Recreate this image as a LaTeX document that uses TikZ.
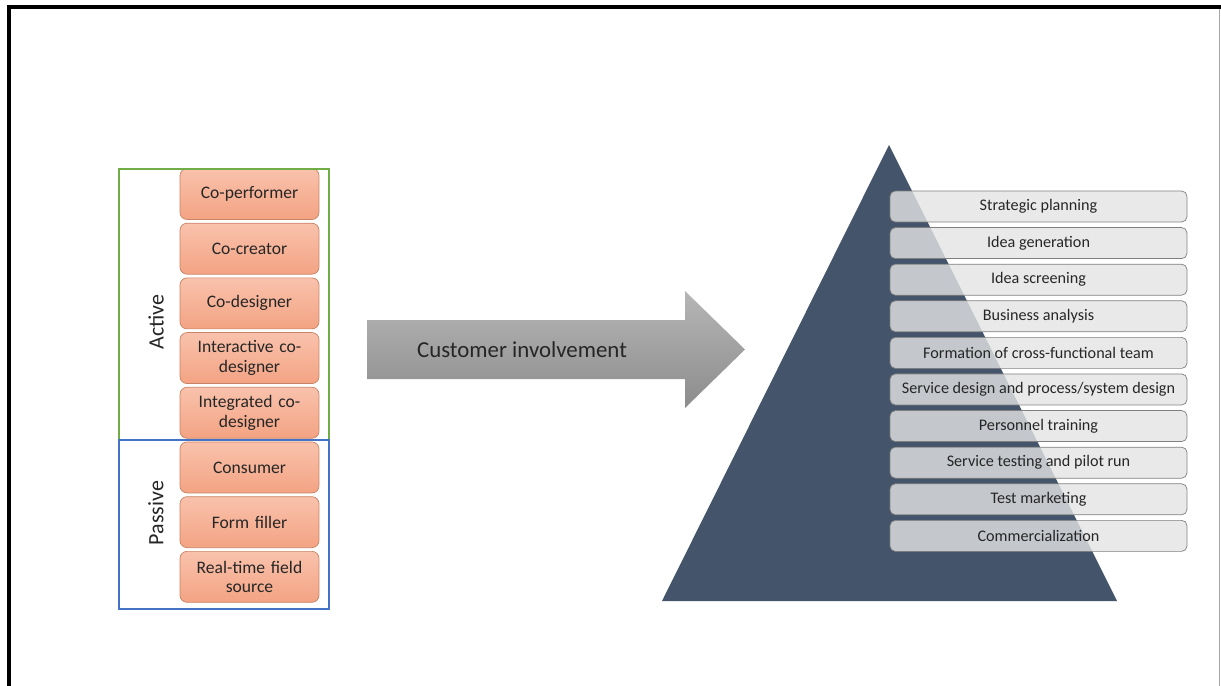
\documentclass[tikz,border=0pt]{standalone}
\usepackage{fontspec}
\setmainfont{Carlito}
\usetikzlibrary{positioning}

\definecolor{roletop}{RGB}{249,194,172}
\definecolor{rolebot}{RGB}{243,163,131}
\definecolor{roleedge}{RGB}{200,130,100}
\definecolor{activegreen}{RGB}{112,173,71}
\definecolor{passiveblue}{RGB}{68,114,196}
\definecolor{slate}{RGB}{68,84,106}
\definecolor{stagefill}{RGB}{228,228,228}
\definecolor{stageedge}{RGB}{127,127,127}
\definecolor{arrowtop}{RGB}{182,182,182}
\definecolor{arrowbot}{RGB}{140,140,140}

\begin{document}
\begin{tikzpicture}[x=0.02cm, y=-0.02cm]
\tikzset{
    every node/.style = {align=center, text=black!85, inner sep=1pt},
    role/.style = {draw=roleedge, rounded corners=4pt, top color=roletop, bottom color=rolebot,
                   minimum width=2.78cm, minimum height=1.02cm, text width=2.6cm,
                   font=\fontsize{10}{11}\selectfont},
    stage/.style = {draw=stageedge, rounded corners=3pt, fill=stagefill, fill opacity=.8,
                     text opacity=1, minimum width=5.94cm, minimum height=.62cm,
                     font=\fontsize{9.2}{10}\selectfont},
    group/.style = {draw, line width=1.4pt, minimum width=4.2cm},
    grouplabel/.style = {rotate=90, font=\fontsize{12.5}{14}\selectfont}
}
\useasboundingbox (0,0) rectangle (1221,686);

% -------------------------------------------------------
% page frame
\draw[line width=2.3pt] (9,686) -- (9,7) -- (1221,7);
\draw[gray!70, line width=.6pt] (1219.5,9) -- (1219.5,686);

% -------------------------------------------------------
% customer roles
\node[role] (perf) at (249.5,194) {Co-performer};
\node[role, below=.06cm of perf] (creator) {Co-creator};
\node[role, below=.06cm of creator] (designer) {Co-designer};
\node[role, below=.06cm of designer] (interact) {Interactive co-\\designer};
\node[role, below=.06cm of interact] (integr) {Integrated co-\\designer};
\node[role, below=.06cm of integr] (consumer) {Consumer};
\node[role, below=.06cm of consumer] (form) {Form filler};
\node[role, below=.06cm of form] (field) {Real-time field\\source};

\node[group, draw=activegreen, minimum height=5.42cm] (active) at (224,304.5) {};
\node[group, draw=passiveblue, minimum height=3.38cm] (passive) at (224,524.5) {};

\node[grouplabel] (activelbl) at (156,322) {Active};
\node[grouplabel] (passivelbl) at (156,513) {Passive};

% -------------------------------------------------------
% involvement arrow
\shade[top color=arrowtop, bottom color=arrowbot]
    (367,320) -- (685,320) -- (685,291) -- (745,349.5)
    -- (685,408) -- (685,379) -- (367,379) -- cycle;
\node[font=\fontsize{13}{15}\selectfont] (involve) at (522,349.5) {Customer involvement};

% -------------------------------------------------------
% development stages
\fill[slate] (889,145) -- (1117,601) -- (662,601) -- cycle;

\node[stage] (s1) at (1038.5,206.5) {Strategic planning};
\node[stage, below=.098cm of s1] (s2) {Idea generation};
\node[stage, below=.098cm of s2] (s3) {Idea screening};
\node[stage, below=.098cm of s3] (s4) {Business analysis};
\node[stage, below=.098cm of s4] (s5) {Formation of cross-functional team};
\node[stage, below=.098cm of s5] (s6) {Service design and process/system design};
\node[stage, below=.098cm of s6] (s7) {Personnel training};
\node[stage, below=.098cm of s7] (s8) {Service testing and pilot run};
\node[stage, below=.098cm of s8] (s9) {Test marketing};
\node[stage, below=.098cm of s9] (s10) {Commercialization};
\end{tikzpicture}
\end{document}
